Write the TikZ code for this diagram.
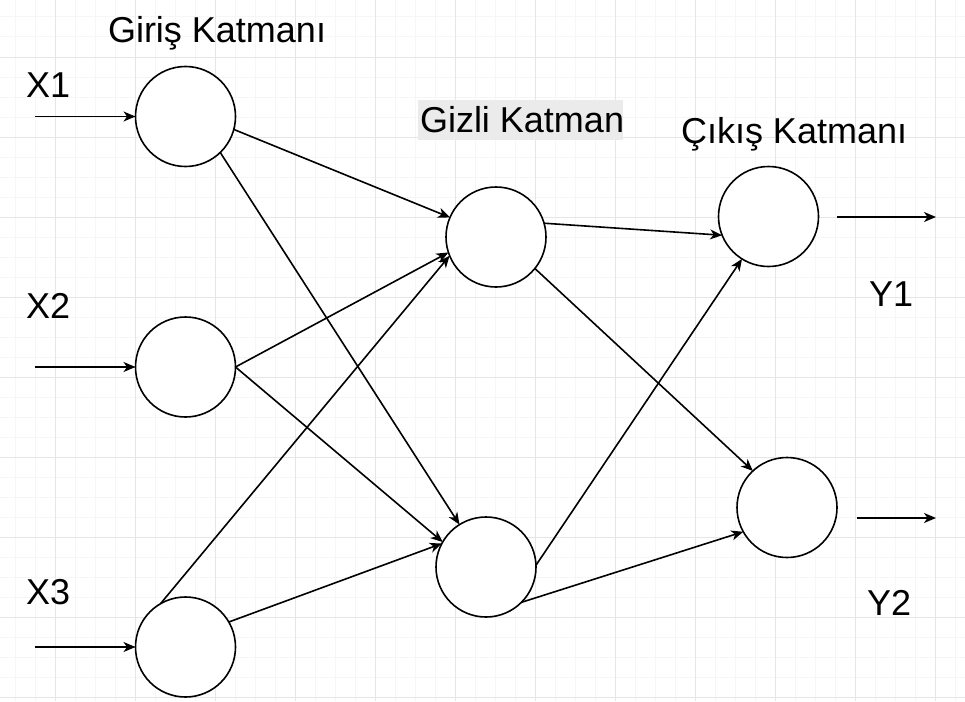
\documentclass[tikz,border=0pt]{standalone}
\usepackage{fontspec}
\setmainfont{Liberation Sans}
\usetikzlibrary{arrows.meta}
\definecolor{gridminor}{HTML}{F6F6F6}
\definecolor{gridmajor}{HTML}{E6E6E6}
\definecolor{gizlibg}{HTML}{EBEBEB}
\begin{document}
\begin{tikzpicture}[x=1pt,y=-1pt,
  neuron/.style={circle,draw=black,line width=1.6pt,fill=white,minimum size=100pt,inner sep=0pt,outer sep=0pt},
  conn/.style={line width=1.6pt,-{Stealth[length=12pt,width=10pt,inset=3.5pt]}},
  lbl/.style={anchor=base west,inner sep=0pt,outer sep=0pt,font=\fontsize{36}{43}\selectfont,text=black},
  minorline/.style={draw=gridminor,line width=1pt},
  majorline/.style={draw=gridmajor,line width=1pt}]
\useasboundingbox (0,0) rectangle (965,701);
\fill[white] (0,0) rectangle (965,701);
% grid
\foreach \x in {15,35,...,955} \draw[minorline] (\x,0) -- (\x,701);
\foreach \y in {17,37,...,697} \draw[minorline] (0,\y) -- (965,\y);
\foreach \x in {55,135,...,935} \draw[majorline] (\x,0) -- (\x,701);
\foreach \y in {57,137,...,697} \draw[majorline] (0,\y) -- (965,\y);
% neurons
\node[neuron] (I1) at (185.5,116.5) {};
\node[neuron] (I2) at (185.5,367) {};
\node[neuron] (I3) at (185.5,647) {};
\node[neuron] (H1) at (496,237) {};
\node[neuron] (H2) at (486,567) {};
\node[neuron] (O1) at (768.5,216.5) {};
\node[neuron] (O2) at (787,507.5) {};
% inputs
\coordinate (x1) at (35,116.5);
\coordinate (x2) at (35,367);
\coordinate (x3) at (35,647);
\draw[conn] (x1) -- (I1.west);
\draw[conn] (x2) -- (I2.west);
\draw[conn] (x3) -- (I3.west);
% input -> hidden
\draw[conn] (I1.-15.7) -- (H1.157.4);
\draw[conn] (I1.-46.5) -- (H2.122);
\draw[conn] (I2.0) -- (H1.-162.3);
\draw[conn] (I2.0) -- (H2.150);
\draw[conn] (I3.120.2) -- (H1.-158.4);
\draw[conn] (I3.30.4) -- (H2.152.6);
% hidden -> output
\draw[conn] (H1.16.4) -- (O1.-158.7);
\draw[conn] (H1.-39.8) -- (O2.133.9);
\draw[conn] (H2.2.2) -- (O1.-122);
\draw[conn] (H2.-45.4) -- (O2.-151.2);
% outputs
\coordinate (y1a) at (837,217);
\coordinate (y1b) at (936,217);
\coordinate (y2a) at (857,518);
\coordinate (y2b) at (936,518);
\draw[conn] (y1a) -- (y1b);
\draw[conn] (y2a) -- (y2b);
% labels
\fill[gizlibg] (418,100) rectangle (623,140);
\node[lbl] (tin) at (108,43) {Giriş Katmanı};
\node[lbl] (thid) at (420,132) {Gizli Katman};
\node[lbl] (tout) at (681,143) {Çıkış Katmanı};
\node[lbl] (lx1) at (26,97) {X1};
\node[lbl] (lx2) at (26,318) {X2};
\node[lbl] (lx3) at (26,604) {X3};
\node[lbl] (ly1) at (869,306) {Y1};
\node[lbl] (ly2) at (867,615) {Y2};
\end{tikzpicture}
\end{document}
